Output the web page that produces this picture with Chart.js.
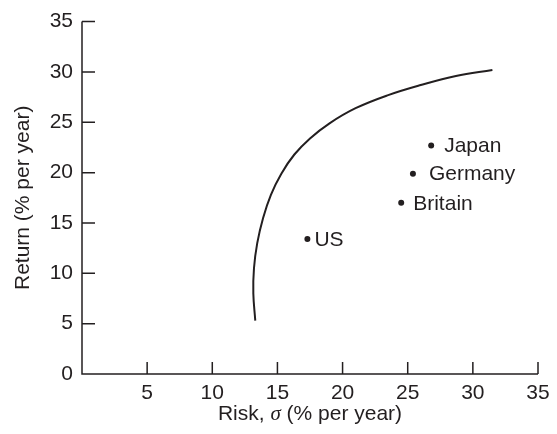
<!DOCTYPE html>
<html>
<head>
<meta charset="utf-8">
<script src="https://cdn.jsdelivr.net/npm/chart.js@4.4.1/dist/chart.umd.min.js"></script>
<style>
  html, body { margin: 0; padding: 0; background: #fff; }
  #wrap { width: 557px; height: 434px; }
</style>
</head>
<body>
<div id="wrap"><canvas id="grafico" width="557" height="434"></canvas></div>
<script>
// Curva (fronteira), de baixo para cima
const curvaRisco   = [13.3, 13.15, 13.2, 13.45, 13.9, 14.5, 15.3, 16.3, 17.5, 19.0, 21.0, 23.5, 26.0, 28.7, 31.5];
const curvaRetorno = [5.3, 8.0, 10.5, 13.0, 15.5, 17.8, 19.9, 21.8, 23.4, 24.9, 26.4, 27.7, 28.7, 29.6, 30.2];

// Países
const paises   = ["Japan", "Germany", "Britain", "US"];
const riscos   = [26.8, 25.4, 24.5, 17.3];
const retornos = [22.7, 19.9, 17.0, 13.4];

// Ticks dos eixos
const ticksEixo = [0, 5, 10, 15, 20, 25, 30, 35];

const FONTE = "'Liberation Sans', Arial, sans-serif";
const TAM = 21;
const COR = '#231f20';

// Rótulos dos países ao lado dos pontos
const rotulosPaises = {
    id: 'rotulosPaises',
    afterDatasetsDraw(chart, args, opts) {
        const ctx = chart.ctx;
        const meta = chart.getDatasetMeta(1);
        ctx.save();
        ctx.font = `${TAM}px ${FONTE}`;
        ctx.fillStyle = COR;
        ctx.textBaseline = 'middle';
        ctx.textAlign = 'left';
        meta.data.forEach((pt, i) => {
            const dx = opts.deslocamentos[i] || 8;
            ctx.fillText(paises[i], pt.x + dx, pt.y + 1);
        });
        ctx.restore();
    }
};

// Eixos com ticks para dentro e títulos (sigma em itálico)
const eixos = {
    id: 'eixos',
    afterDraw(chart) {
        const ctx = chart.ctx;
        const area = chart.chartArea;
        const sx = chart.scales.x;
        const sy = chart.scales.y;
        ctx.save();
        ctx.strokeStyle = COR;
        ctx.lineWidth = 1.5;
        ctx.beginPath();
        ctx.moveTo(area.left, area.top);
        ctx.lineTo(area.left, area.bottom);
        ctx.lineTo(area.right, area.bottom);
        ctx.stroke();

        ctx.beginPath();
        ticksEixo.forEach(v => {
            if (v === 0) return;
            const x = sx.getPixelForValue(v);
            ctx.moveTo(x, area.bottom);
            ctx.lineTo(x, area.bottom - 12);
        });
        ticksEixo.forEach(v => {
            if (v === 0) return;
            const y = sy.getPixelForValue(v);
            ctx.moveTo(area.left, y);
            ctx.lineTo(area.left + 13, y);
        });
        ctx.stroke();

        // título do eixo x
        const partes = [
            { t: 'Risk, ', f: `${TAM}px ${FONTE}` },
            { t: '\u03c3', f: `italic ${TAM}px 'Liberation Serif', serif` },
            { t: ' (% per year)', f: `${TAM}px ${FONTE}` }
        ];
        let total = 0;
        partes.forEach(p => { ctx.font = p.f; total += ctx.measureText(p.t).width; });
        let x = (area.left + area.right) / 2 - total / 2;
        ctx.fillStyle = COR;
        ctx.textBaseline = 'middle';
        ctx.textAlign = 'left';
        partes.forEach(p => {
            ctx.font = p.f;
            ctx.fillText(p.t, x, 414);
            x += ctx.measureText(p.t).width;
        });

        // título do eixo y
        ctx.translate(23, (area.top + area.bottom) / 2);
        ctx.rotate(-Math.PI / 2);
        ctx.font = `${TAM}px ${FONTE}`;
        ctx.textAlign = 'center';
        ctx.fillText('Return (% per year)', 0, 0);
        ctx.restore();
    }
};

const ctx = document.getElementById('grafico').getContext('2d');

new Chart(ctx, {
    type: 'scatter',
    data: {
        datasets: [
            {
                label: 'Fronteira',
                data: curvaRisco.map((r, i) => ({ x: r, y: curvaRetorno[i] })),
                showLine: true,
                borderColor: COR,
                borderWidth: 2,
                pointRadius: 0,
                tension: 0.4,
                fill: false
            },
            {
                label: 'Países',
                data: riscos.map((r, i) => ({ x: r, y: retornos[i] })),
                backgroundColor: COR,
                borderColor: COR,
                pointRadius: 3,
                pointBorderWidth: 0
            }
        ]
    },
    options: {
        responsive: false,
        animation: false,
        layout: { padding: { top: 18, right: 19, left: 0, bottom: 0 } },
        plugins: {
            legend: { display: false },
            tooltip: { enabled: false },
            rotulosPaises: { deslocamentos: [13, 16, 12, 7] }
        },
        scales: {
            x: {
                type: 'linear',
                min: 0,
                max: 35,
                afterFit(scale) { scale.height = 60; },
                afterBuildTicks(scale) { scale.ticks = ticksEixo.map(v => ({ value: v })); },
                border: { display: false },
                grid: { display: false, drawTicks: false },
                ticks: {
                    padding: 7,
                    color: COR,
                    font: { family: FONTE, size: TAM },
                    callback: v => (v === 0 ? '' : v)
                },
                title: { display: false }
            },
            y: {
                type: 'linear',
                min: 0,
                max: 35,
                afterFit(scale) { scale.width = 82; },
                afterBuildTicks(scale) { scale.ticks = ticksEixo.map(v => ({ value: v })); },
                border: { display: false },
                grid: { display: false, drawTicks: false },
                ticks: {
                    padding: 9,
                    color: COR,
                    font: { family: FONTE, size: TAM }
                },
                title: { display: false }
            }
        }
    },
    plugins: [rotulosPaises, eixos]
});
</script>
</body>
</html>
